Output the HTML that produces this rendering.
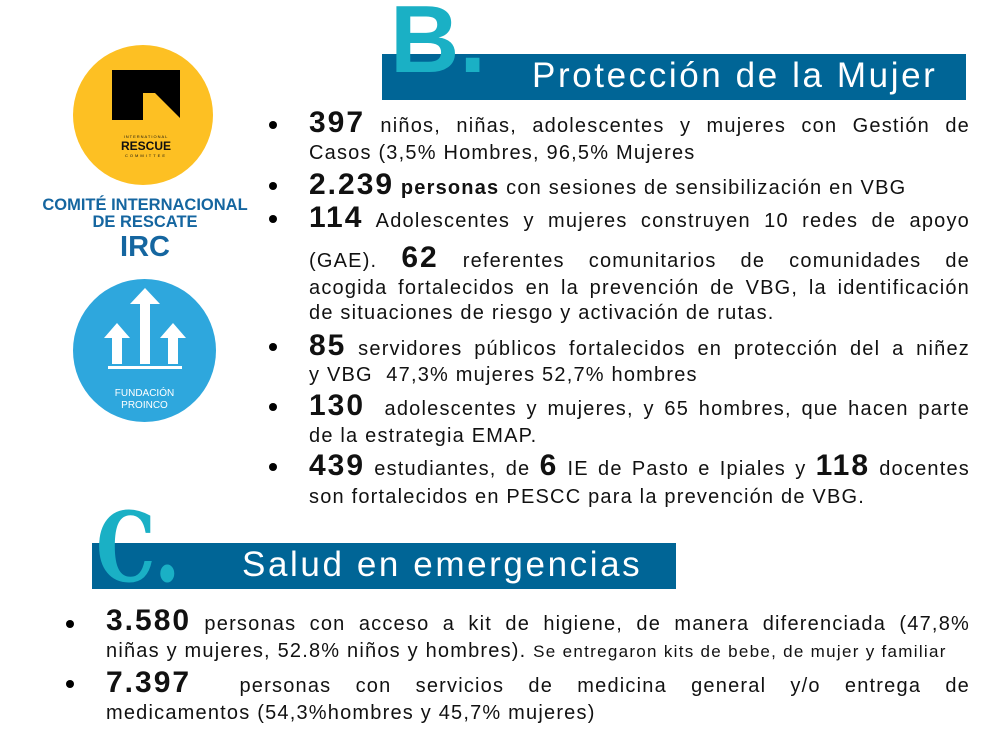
<!DOCTYPE html>
<html><head><meta charset="utf-8"><style>
body{margin:0;width:1007px;height:740px;background:#fff;position:relative;overflow:hidden;font-family:"Liberation Sans","DejaVu Sans",sans-serif;color:#111}
.a{position:absolute}
.ln{position:absolute;font-size:20px;letter-spacing:1.2px;white-space:nowrap;text-align:justify;text-align-last:justify;line-height:26px}
.ln.l{text-align-last:left}
b.n{font-size:30px;font-weight:bold;letter-spacing:2px}
.dot{position:absolute;width:8px;height:8px;border-radius:50%;background:#000}
.bar{position:absolute;background:#006596;color:#fff;font-size:35px;letter-spacing:2.6px}
.big{position:absolute;color:#1ab0c5;font-weight:bold}
</style></head><body>
<div class="a" style="left:73px;top:45px;width:140px;height:140px;border-radius:50%;background:#fdc023"></div>
<svg class="a" style="left:110px;top:68px" width="72" height="72" viewBox="0 0 72 72"><path d="M2 2H70V50L45 25H33V52H2Z" fill="#000"/></svg>
<div class="a" style="left:110px;top:134px;width:72px;text-align:center;font-size:4px;letter-spacing:1px">INTERNATIONAL</div>
<div class="a" style="left:110px;top:139px;width:72px;text-align:center;font-size:12px;font-weight:bold">RESCUE</div>
<div class="a" style="left:110px;top:153px;width:72px;text-align:center;font-size:4px;letter-spacing:2px">COMMITTEE</div>
<div class="a" style="left:30px;top:197px;width:230px;text-align:center;color:#1566a0;font-weight:bold;font-size:16.5px;line-height:17px">COMITÉ INTERNACIONAL<br>DE RESCATE<br><span style="font-size:29px;line-height:32px">IRC</span></div>
<div class="a" style="left:73px;top:279px;width:143px;height:143px;border-radius:50%;background:#2ea7dd"></div>
<svg class="a" style="left:100px;top:288px" width="90" height="90" viewBox="0 0 90 90"><g fill="#fff"><path d="M45 0L60 16H50V76H40V16H30Z"/><path d="M17 35L30 50H22V76H12V50H4Z"/><path d="M73 35L86 50H78V76H68V50H60Z"/><rect x="8" y="78" width="74" height="3"/></g></svg>
<div class="a" style="left:73px;top:388px;width:143px;text-align:center;color:#fff;font-size:10px;line-height:12px">FUNDACIÓN<br>PROINCO</div>

<div class="bar" style="left:382px;top:54px;width:584px;height:46px"><span class="a" style="left:150px;top:2px">Protección de la Mujer</span></div>
<div class="big" style="left:390px;top:-8px;font-size:96px;line-height:96px">B.</div>

<div class="dot" style="left:269px;top:121px"></div>
<div class="ln" style="left:309px;top:110px;width:661px"><b class="n">397</b> niños, niñas, adolescentes y mujeres con Gestión de</div>
<div class="ln l" style="left:309px;top:140px;width:661px">Casos (3,5% Hombres, 96,5% Mujeres</div>
<div class="dot" style="left:269px;top:182px"></div>
<div class="ln l" style="left:309px;top:172px;width:661px"><b class="n">2.239</b> <b>personas</b> con sesiones de sensibilización en VBG</div>
<div class="dot" style="left:269px;top:215px"></div>
<div class="ln" style="left:309px;top:205px;width:661px"><b class="n">114</b> Adolescentes y mujeres construyen 10 redes de apoyo</div>
<div class="ln" style="left:309px;top:245px;width:661px">(GAE). <b class="n">62</b> referentes comunitarios de comunidades de</div>
<div class="ln" style="left:309px;top:275px;width:661px">acogida fortalecidos en la prevención de VBG, la identificación</div>
<div class="ln l" style="left:309px;top:300px;width:661px">de situaciones de riesgo y activación de rutas.</div>
<div class="dot" style="left:269px;top:343px"></div>
<div class="ln" style="left:309px;top:333px;width:661px"><b class="n">85</b> servidores públicos fortalecidos en protección del a niñez</div>
<div class="ln l" style="left:309px;top:362px;width:661px">y VBG&nbsp; 47,3% mujeres 52,7% hombres</div>
<div class="dot" style="left:269px;top:403px"></div>
<div class="ln" style="left:309px;top:393px;width:661px"><b class="n">130</b>&nbsp; adolescentes y mujeres, y 65 hombres, que hacen parte</div>
<div class="ln l" style="left:309px;top:423px;width:661px">de la estrategia EMAP.</div>
<div class="dot" style="left:269px;top:463px"></div>
<div class="ln" style="left:309px;top:453px;width:661px"><b class="n">439</b> estudiantes, de <b class="n">6</b> IE de Pasto e Ipiales y <b class="n">118</b> docentes</div>
<div class="ln l" style="left:309px;top:484px;width:661px">son fortalecidos en PESCC para la prevención de VBG.</div>

<div class="bar" style="left:92px;top:543px;width:584px;height:46px"><span class="a" style="left:150px;top:2px">Salud en emergencias</span></div>
<div class="big" style="left:96px;top:500px;font-size:96px;line-height:96px;font-family:'DejaVu Serif',serif;transform:scaleX(0.78);transform-origin:left">C.</div>

<div class="dot" style="left:66px;top:620px"></div>
<div class="ln" style="left:106px;top:608px;width:864px"><b class="n">3.580</b> personas con acceso a kit de higiene, de manera diferenciada (47,8%</div>
<div class="ln l" style="left:106px;top:638px;width:864px">niñas y mujeres, 52.8% niños y hombres). <span style="font-size:17px;letter-spacing:1.3px">Se entregaron kits de bebe, de mujer y familiar</span></div>
<div class="dot" style="left:66px;top:680px"></div>
<div class="ln" style="left:106px;top:670px;width:864px"><b class="n">7.397</b>&nbsp; personas con servicios de medicina general y/o entrega de</div>
<div class="ln l" style="left:106px;top:700px;width:864px">medicamentos (54,3%hombres y 45,7% mujeres)</div>
</body></html>
